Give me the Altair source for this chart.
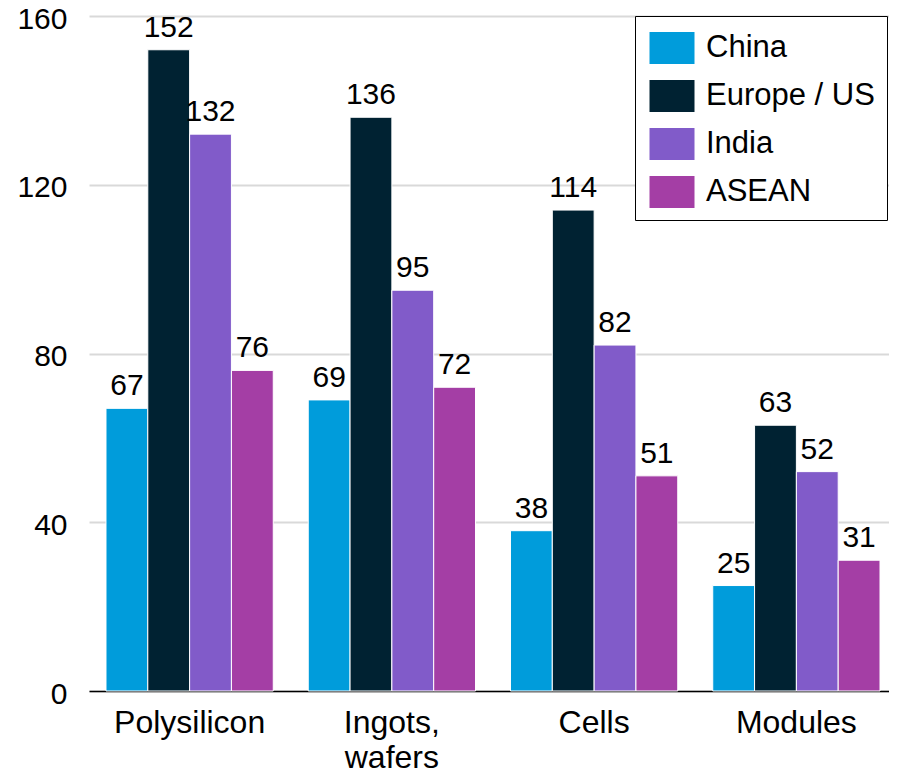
import altair as alt
import pandas as pd

categories = ["Polysilicon", "Ingots, wafers", "Cells", "Modules"]
series = ["China", "Europe / US", "India", "ASEAN"]
china = [67, 69, 38, 25]
europe_us = [152, 136, 114, 63]
india = [132, 95, 82, 52]
asean = [76, 72, 51, 31]
colors = ["#009CDB", "#002232", "#815BC9", "#A43EA5"]
y_ticks = [0, 40, 80, 120, 160]

rows = []
for s, vals in zip(series, [china, europe_us, india, asean]):
    for c, v in zip(categories, vals):
        rows.append({"category": c, "series": s, "value": v})
df = pd.DataFrame(rows)

FONT = "Liberation Sans"

x = alt.X(
    "category:N",
    sort=categories,
    scale=alt.Scale(range=[0, 808], paddingInner=0.173, paddingOuter=0.084),
    axis=alt.Axis(
        title=None,
        labelAngle=0,
        labelFontSize=32,
        labelFont=FONT,
        labelColor="black",
        labelPadding=16,
        labelLineHeight=35,
        labelExpr="datum.label == 'Ingots, wafers' ? ['Ingots,', 'wafers'] : datum.label",
        ticks=False,
        grid=False,
        domainColor="black",
        domainWidth=1.5,
    ),
)
xoff = alt.XOffset("series:N", sort=series, scale=alt.Scale(paddingInner=0, paddingOuter=0))
y = alt.Y(
    "value:Q",
    scale=alt.Scale(domain=[0, 160], nice=False),
    axis=alt.Axis(
        title=None,
        values=y_ticks,
        ticks=False,
        domain=False,
        gridColor="#D9D9D9",
        gridWidth=2,
        labelFontSize=30,
        labelFont=FONT,
        labelColor="black",
        labelPadding=22,
        labelOffset=3,
    ),
)
color = alt.Color(
    "series:N",
    sort=series,
    scale=alt.Scale(domain=series, range=colors),
    legend=alt.Legend(
        title=None,
        orient="none",
        legendX=546,
        legendY=0,
        strokeColor="black",
        fillColor="white",
        padding=12,
        labelFontSize=31,
        labelFont=FONT,
        labelColor="black",
        labelOffset=19,
        labelLimit=400,
        symbolType="M-0.875,-0.8H1.375V0.8H-0.875Z",
        symbolSize=1600,
        symbolStrokeWidth=0,
        symbolOpacity=1,
        rowPadding=12,
    ),
)

bars = alt.Chart(df).mark_bar(stroke="white", strokeWidth=1).encode(
    x=x, xOffset=xoff, y=y, color=color
)
labels = alt.Chart(df).mark_text(
    fontSize=30, font=FONT, dy=-13, baseline="alphabetic", color="black"
).encode(x=x, xOffset=xoff, y=y, text="value:Q")

chart = (
    alt.layer(bars, labels)
    .properties(
        width=800,
        height=675,
        padding={"left": 81, "top": 8, "right": 0, "bottom": 77},
        autosize=alt.AutoSizeParams(type="none"),
    )
    .configure_view(stroke=None)
)

chart.save("out.html", embed_options={"renderer": "svg", "actions": False})
